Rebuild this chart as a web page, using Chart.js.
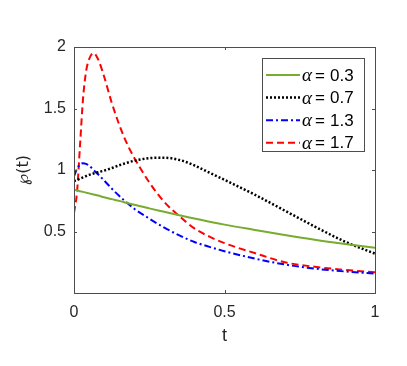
<!DOCTYPE html>
<html>
<head>
<meta charset="utf-8">
<script src="https://cdn.jsdelivr.net/npm/chart.js@4.4.0/dist/chart.umd.min.js"></script>
<style>
  html, body { margin: 0; padding: 0; background: #fff; }
  #wrap { width: 407px; height: 366px; }
</style>
</head>
<body>
<div id="wrap"><canvas id="chart" width="407" height="366"></canvas></div>
<script>
// sample times (denser near t = 0 where the peaks are)
const tValues = [0, 0.01, 0.02, 0.03, 0.04, 0.05, 0.065, 0.08, 0.1, 0.125, 0.15, 0.175,
  0.2, 0.25, 0.3, 0.35, 0.4, 0.45, 0.5, 0.6, 0.7, 0.8, 0.9, 1];

const alpha03 = [0.84, 0.834, 0.828, 0.822, 0.816, 0.81, 0.801, 0.792, 0.778, 0.763, 0.749, 0.733,
  0.717, 0.688, 0.66, 0.632, 0.606, 0.58, 0.556, 0.513, 0.471, 0.432, 0.398, 0.367];
const alpha07 = [0.91, 0.92, 0.93, 0.94, 0.95, 0.96, 0.972, 0.982, 0.995, 1.015, 1.038, 1.058,
  1.075, 1.096, 1.1, 1.082, 1.037, 0.978, 0.92, 0.8, 0.67, 0.54, 0.418, 0.32];
const alpha13 = [0.95, 1.01, 1.045, 1.055, 1.05, 1.035, 1.0, 0.965, 0.915, 0.85, 0.79, 0.735,
  0.685, 0.605, 0.532, 0.468, 0.415, 0.375, 0.34, 0.28, 0.232, 0.198, 0.175, 0.158];
const alpha17 = [0.65, 0.82, 1.2, 1.58, 1.8, 1.9, 1.95, 1.9, 1.76, 1.55, 1.37, 1.22,
  1.1, 0.9, 0.74, 0.625, 0.525, 0.458, 0.405, 0.325, 0.25, 0.213, 0.188, 0.168];

const alphaLabels = ['0.3', '0.7', '1.3', '1.7'];
const xTicks = [0, 0.5, 1];
const yTicks = [0.5, 1, 1.5, 2];

const toPoints = ys => ys.map((y, i) => ({ x: tValues[i], y: y }));

const axisColor = '#4d4d4d';
const textColor = '#262626';

// frame, inward tick marks and the boxed legend, MATLAB style
const framePlugin = {
  id: 'frame',
  afterDraw(chart) {
    const ctx = chart.ctx;
    const a = chart.chartArea;
    const xs = chart.scales.x, ys = chart.scales.y;
    ctx.save();
    ctx.strokeStyle = axisColor;
    ctx.lineWidth = 1;
    ctx.strokeRect(Math.round(a.left) + 0.5, Math.round(a.top) + 0.5,
      Math.round(a.right - a.left), Math.round(a.bottom - a.top));
    ctx.beginPath();
    xTicks.forEach(v => {
      const px = Math.round(xs.getPixelForValue(v)) + 0.5;
      ctx.moveTo(px, a.bottom); ctx.lineTo(px, a.bottom - 3);
      ctx.moveTo(px, a.top); ctx.lineTo(px, a.top + 3);
    });
    yTicks.forEach(v => {
      const py = Math.round(ys.getPixelForValue(v)) + 0.5;
      ctx.moveTo(a.left, py); ctx.lineTo(a.left + 3, py);
      ctx.moveTo(a.right, py); ctx.lineTo(a.right - 3, py);
    });
    ctx.stroke();

    // legend
    const lx = 262.5, ly = 58.5, lw = 102, lh = 93;
    ctx.fillStyle = '#fff';
    ctx.fillRect(lx, ly, lw, lh);
    ctx.strokeStyle = axisColor;
    ctx.strokeRect(lx, ly, lw, lh);
    chart.data.datasets.forEach((ds, i) => {
      const cy = 75 + i * 22.6;
      ctx.beginPath();
      ctx.strokeStyle = ds.borderColor;
      ctx.lineWidth = ds.borderWidth;
      ctx.setLineDash(ds.borderDash || []);
      ctx.moveTo(266, cy); ctx.lineTo(300, cy);
      ctx.stroke();
      ctx.setLineDash([]);
      ctx.fillStyle = '#000';
      ctx.textBaseline = 'middle';
      ctx.textAlign = 'left';
      ctx.font = 'italic 19px "Liberation Serif"';
      ctx.fillText('\u03B1', 302, cy + 1);
      ctx.font = '17px "Liberation Sans"';
      ctx.fillText('=', 315, cy + 1);
      ctx.fillText(alphaLabels[i], 330, cy + 1);
    });
    ctx.restore();
  }
};

new Chart(document.getElementById('chart'), {
  type: 'line',
  data: {
    datasets: [
      { label: '\u03B1 = ' + alphaLabels[0], data: toPoints(alpha03),
        borderColor: '#77AC30', borderWidth: 2 },
      { label: '\u03B1 = ' + alphaLabels[1], data: toPoints(alpha07),
        borderColor: '#000000', borderWidth: 2.5, borderDash: [2, 2] },
      { label: '\u03B1 = ' + alphaLabels[2], data: toPoints(alpha13),
        borderColor: '#0000FF', borderWidth: 2, borderDash: [7, 3, 2, 3] },
      { label: '\u03B1 = ' + alphaLabels[3], data: toPoints(alpha17),
        borderColor: '#FF0000', borderWidth: 2, borderDash: [7, 4] }
    ]
  },
  options: {
    responsive: false,
    animation: false,
    events: [],
    elements: { point: { radius: 0 }, line: { cubicInterpolationMode: 'monotone', fill: false } },
    layout: { padding: { left: 0, top: 47, right: 32, bottom: 0 } },
    plugins: { legend: { display: false }, tooltip: { enabled: false } },
    scales: {
      x: {
        type: 'linear', min: 0, max: 1,
        afterBuildTicks: s => { s.ticks = xTicks.map(v => ({ value: v })); },
        afterFit: s => { s.height = 73; },
        grid: { display: false, drawTicks: false },
        border: { display: false },
        ticks: { padding: 10, color: textColor, maxRotation: 0,
          font: { family: '"Liberation Sans"', size: 16 },
          callback: v => String(v) },
        title: { display: true, text: 't', color: textColor,
          font: { family: '"Liberation Sans"', size: 18 }, padding: { top: 0, bottom: 19 } }
      },
      y: {
        type: 'linear', min: 0, max: 2,
        afterBuildTicks: s => { s.ticks = yTicks.map(v => ({ value: v })); },
        afterFit: s => { s.width = 74; },
        grid: { display: false, drawTicks: false },
        border: { display: false },
        ticks: { padding: 8, color: textColor,
          font: { family: '"Liberation Sans"', size: 16 },
          callback: v => String(v) },
        title: { display: true, text: '\u2118(t)', color: textColor,
          font: { family: '"DejaVu Sans"', size: 16 }, padding: { top: 14, bottom: 0 } }
      }
    }
  },
  plugins: [framePlugin]
});
</script>
</body>
</html>
